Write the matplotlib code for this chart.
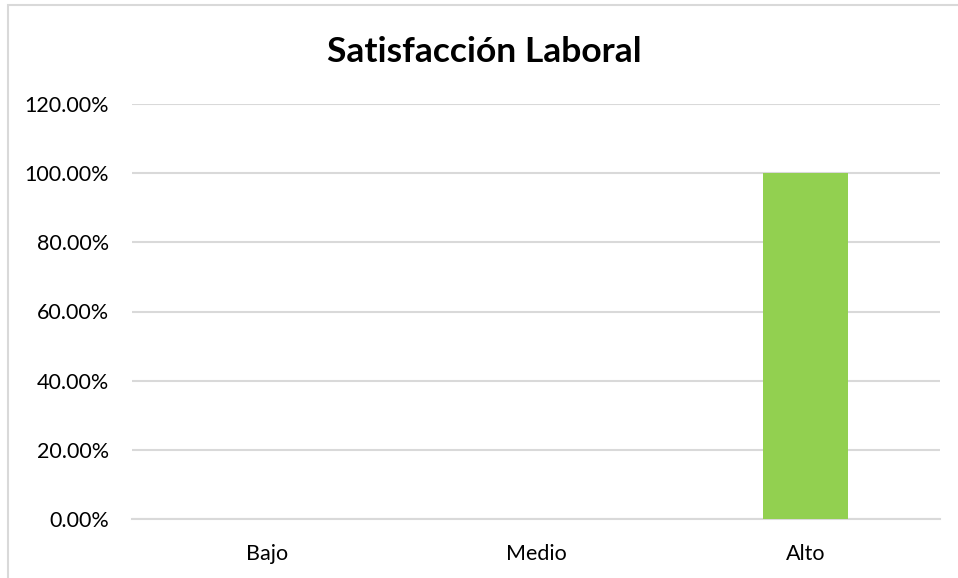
import matplotlib
matplotlib.use("Agg")
import matplotlib.pyplot as plt
from matplotlib.patches import Rectangle
from matplotlib.ticker import FuncFormatter

categories = ["Bajo", "Medio", "Alto"]
values = [0.0, 0.0, 1.0]
title = "Satisfacción Laboral"

plt.rcParams['font.family'] = ['Lato', 'DejaVu Sans']

fig = plt.figure(figsize=(9.58, 5.78), dpi=100)
fig.patch.set_facecolor("white")
ax = fig.add_axes([132/958, 1-519/578, (940-132)/958, (519-104)/578])

x = range(len(categories))
ax.bar(x, values, width=0.316, color="#92D050", zorder=3)
ax.set_xlim(-0.5, 2.5)
ax.set_ylim(0, 1.2)
ax.set_yticks([0, 0.2, 0.4, 0.6, 0.8, 1.0, 1.2])
ax.yaxis.set_major_formatter(FuncFormatter(lambda v, p: f"{v*100:.2f}%"))
ax.set_xticks(list(x))
ax.set_xticklabels(categories)
ax.grid(axis="y", color="#D9D9D9", linewidth=1.5, zorder=0)
for s in ["top", "right", "left"]:
    ax.spines[s].set_visible(False)
ax.spines["bottom"].set_color("#D9D9D9")
ax.spines["bottom"].set_linewidth(1.5)
ax.tick_params(axis="both", length=0, labelsize=15.5, colors="#000000")
ax.tick_params(axis="y", pad=16.5)
ax.tick_params(axis="x", pad=18)

fig.text(484/958, 1-52/578, title, ha="center", va="center",
         fontsize=25.5, fontweight="bold")

border = Rectangle((8/958, -0.1), 1.2, 1 - 5/578 + 0.1, transform=fig.transFigure,
                   fill=False, edgecolor="#D9D9D9", linewidth=1.5)
fig.patches.append(border)

fig.savefig("out.png", dpi=100, facecolor="white")
